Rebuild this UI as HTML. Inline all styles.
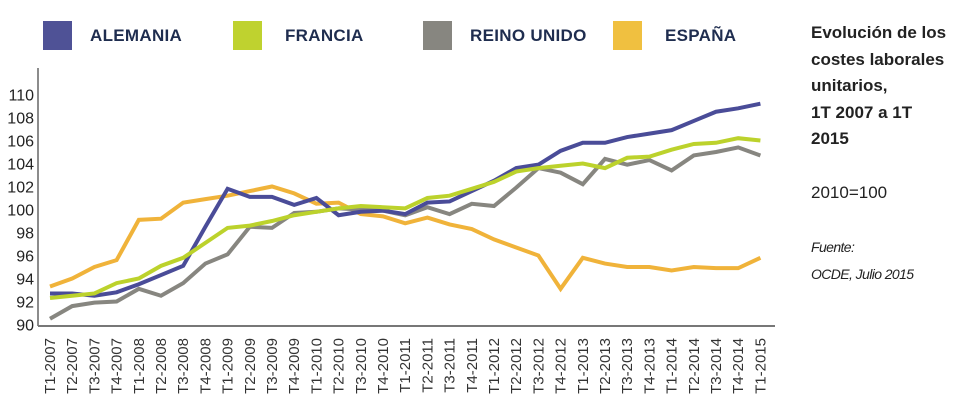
<!DOCTYPE html>
<html><head><meta charset="utf-8"><style>
body{margin:0;width:958px;height:413px;background:#fff;font-family:"Liberation Sans",sans-serif;overflow:hidden;position:relative}
.sw{position:absolute;top:21px;width:29px;height:29px}
.lt{position:absolute;top:26px;font-weight:bold;font-size:17px;color:#1f2d4f;letter-spacing:0.3px}
.side{position:absolute;left:811px;color:#222}
</style></head><body>
<div class="sw" style="left:43px;background:#4f5296"></div>
<div class="lt" style="left:90px">ALEMANIA</div>
<div class="sw" style="left:233px;background:#bfd22f"></div>
<div class="lt" style="left:285px">FRANCIA</div>
<div class="sw" style="left:423px;background:#878680"></div>
<div class="lt" style="left:470px">REINO UNIDO</div>
<div class="sw" style="left:613px;background:#f0c040"></div>
<div class="lt" style="left:665px">ESPAÑA</div>

<div class="side" style="top:20px;font-weight:bold;font-size:17px;line-height:26.5px">Evolución de los<br>costes laborales<br>unitarios,<br>1T 2007 a 1T<br>2015</div>
<div class="side" style="top:183px;font-size:17px">2010=100</div>
<div class="side" style="top:239px;font-size:14px;font-style:italic;letter-spacing:-0.6px">Fuente:</div>
<div class="side" style="top:266px;font-size:14px;font-style:italic;letter-spacing:-0.6px">OCDE, Julio 2015</div>

<svg id="chart" width="958" height="413" style="position:absolute;left:0;top:0"></svg>
<script>
const categories=["T1-2007","T2-2007","T3-2007","T4-2007","T1-2008","T2-2008","T3-2008","T4-2008","T1-2009","T2-2009","T3-2009","T4-2009","T1-2010","T2-2010","T3-2010","T4-2010","T1-2011","T2-2011","T3-2011","T4-2011","T1-2012","T2-2012","T3-2012","T4-2012","T1-2013","T2-2013","T3-2013","T4-2013","T1-2014","T2-2014","T3-2014","T4-2014","T1-2015"];
const alemania=[92.7,92.7,92.5,92.8,93.5,94.3,95.1,98.5,101.8,101.1,101.1,100.4,101.0,99.5,99.8,99.9,99.6,100.6,100.7,101.6,102.5,103.6,103.9,105.1,105.8,105.8,106.3,106.6,106.9,107.7,108.5,108.8,109.2];
const francia=[92.3,92.5,92.7,93.6,94.0,95.1,95.8,97.1,98.4,98.6,99.0,99.5,99.8,100.1,100.3,100.2,100.1,101.0,101.2,101.8,102.4,103.3,103.6,103.8,104.0,103.6,104.5,104.6,105.2,105.7,105.8,106.2,106.0];
const reino=[90.5,91.6,91.9,92.0,93.1,92.5,93.6,95.3,96.1,98.5,98.4,99.7,99.8,100.1,100.0,99.9,99.5,100.2,99.6,100.5,100.3,101.9,103.6,103.2,102.2,104.4,103.9,104.3,103.4,104.7,105.0,105.4,104.7];
const espana=[93.3,94.0,95.0,95.6,99.1,99.2,100.6,100.9,101.2,101.6,102.0,101.4,100.5,100.6,99.6,99.4,98.8,99.3,98.7,98.3,97.4,96.7,96.0,93.1,95.8,95.3,95.0,95.0,94.7,95.0,94.9,94.9,95.8];
const yTicks=[90,92,94,96,98,100,102,104,106,108,110];
const NS="http://www.w3.org/2000/svg";
const svg=document.getElementById("chart");
const x0=50,dx=22.2,yBase=324.5,yPer=11.5;
function xs(i){return x0+i*dx;}
function ys(v){return yBase-(v-90)*yPer;}
function mk(t,a){const e=document.createElementNS(NS,t);for(const k in a)e.setAttribute(k,a[k]);svg.appendChild(e);return e;}
const yax=mk("line",{x1:38,y1:68,x2:38,y2:326,stroke:"#666","stroke-width":1.5});


const xax=mk("line",{x1:38,y1:326,x2:775,y2:326,stroke:"#777","stroke-width":2});


yTicks.forEach(v=>{
  const t=mk("text",{x:34,y:ys(v)+6,"text-anchor":"end","font-size":"16","fill":"#222","font-family":"Liberation Sans, sans-serif"});
  t.textContent=v;
  
  
});
categories.forEach((c,i)=>{
  const xx=xs(i)+5;
  const t=mk("text",{x:0,y:0,transform:`translate(${xx},338) rotate(-90)`,"text-anchor":"end","font-size":"15","fill":"#333","font-family":"Liberation Sans, sans-serif"});
  t.textContent=c;
  
  
});
function series(d,col,name){
  const p=mk("polyline",{points:d.map((v,i)=>xs(i)+","+ys(v)).join(" "),fill:"none",stroke:col,"stroke-width":4,"stroke-linejoin":"miter"});
  
  
}
series(espana,"#f0b33a","line-espana");
series(reino,"#878680","line-reino-unido");
series(alemania,"#4a4c98","line-alemania");
series(francia,"#bcd22c","line-francia");
</script>
</body></html>
